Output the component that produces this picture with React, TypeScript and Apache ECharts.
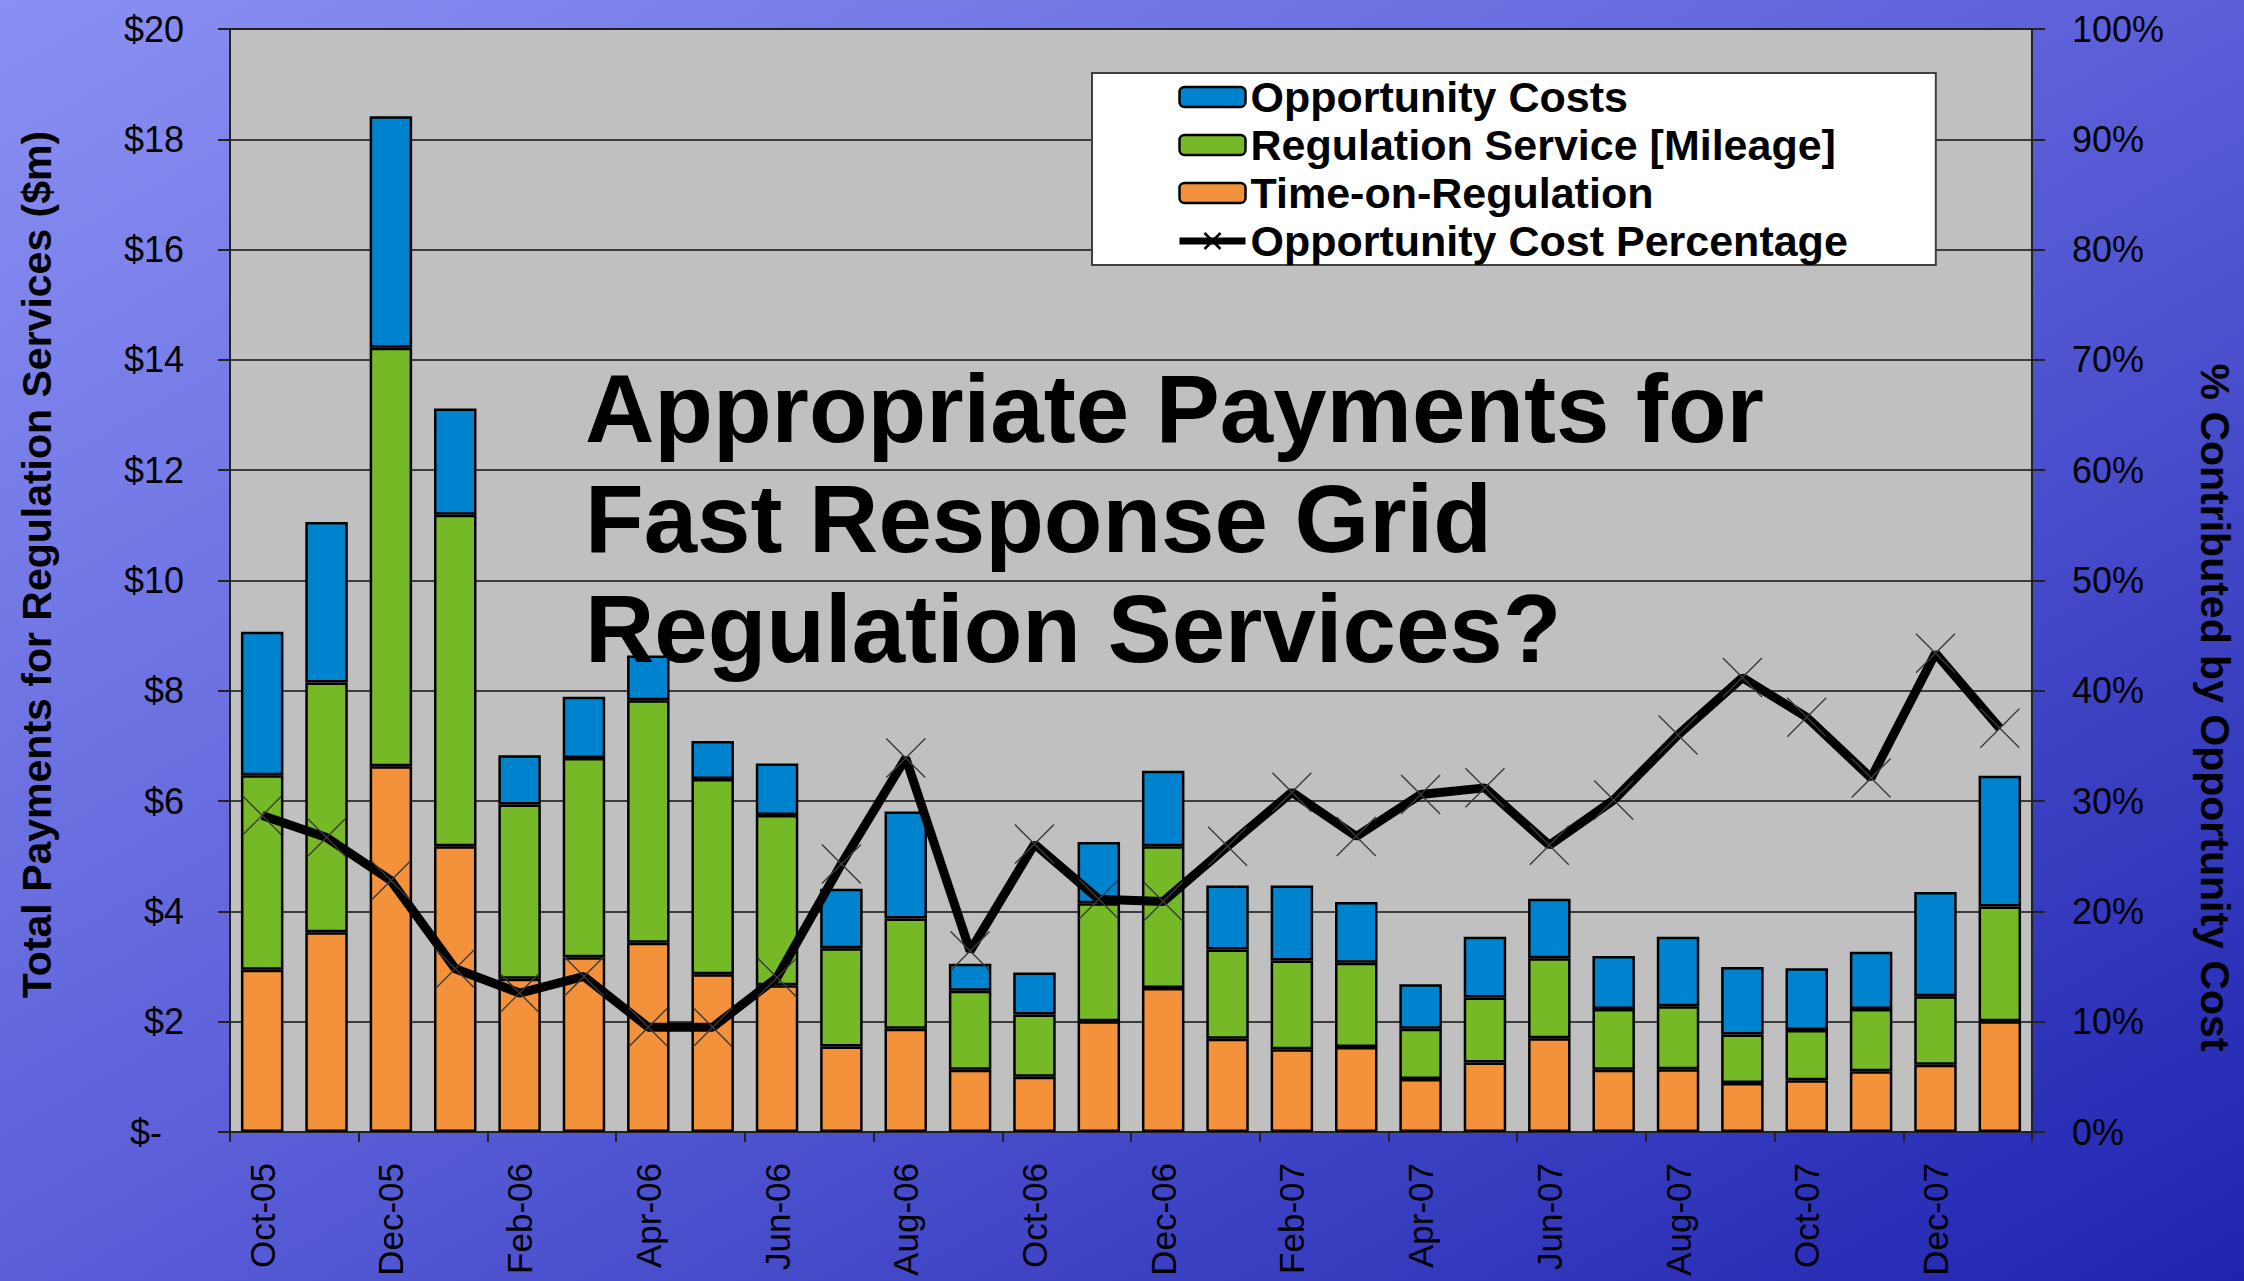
import React, { useEffect, useRef } from "react";
import * as echarts from "echarts";

const categories = [
  "Oct-05", "Nov-05", "Dec-05", "Jan-06", "Feb-06", "Mar-06", "Apr-06", "May-06",
  "Jun-06", "Jul-06", "Aug-06", "Sep-06", "Oct-06", "Nov-06", "Dec-06", "Jan-07",
  "Feb-07", "Mar-07", "Apr-07", "May-07", "Jun-07", "Jul-07", "Aug-07", "Sep-07",
  "Oct-07", "Nov-07", "Dec-07", "Jan-08",
];

// $ millions
const timeOnRegulation = [
  2.94, 3.62, 6.63, 5.18, 2.78, 3.17, 3.43, 2.86, 2.66, 1.55, 1.87, 1.13, 1.0, 2.01,
  2.61, 1.69, 1.5, 1.54, 0.96, 1.26, 1.7, 1.13, 1.14, 0.89, 0.94, 1.1, 1.22, 2.01,
];
const regulationService = [
  3.53, 4.53, 7.59, 6.01, 3.16, 3.61, 4.4, 3.54, 3.09, 1.78, 2.0, 1.43, 1.13, 2.14,
  2.57, 1.62, 1.61, 1.53, 0.91, 1.18, 1.45, 1.1, 1.14, 0.88, 0.91, 1.13, 1.24, 2.08,
];
const opportunityCosts = [
  2.6, 2.91, 4.2, 1.93, 0.89, 1.11, 0.81, 0.69, 0.93, 1.08, 1.94, 0.49, 0.76, 1.11,
  1.37, 1.16, 1.36, 1.1, 0.81, 1.1, 1.08, 0.96, 1.26, 1.22, 1.12, 1.04, 1.89, 2.37,
];
// percent
const opportunityCostPct = [
  28.7, 26.7, 22.8, 14.8, 12.6, 14.1, 9.5, 9.5, 14.0, 24.3, 33.9, 16.4, 26.1, 21.1,
  20.9, 25.9, 30.8, 26.8, 30.6, 31.2, 26.0, 30.1, 36.0, 41.2, 37.6, 32.1, 43.4, 36.6,
];

const seriesNames = [
  "Opportunity Costs",
  "Regulation Service [Mileage]",
  "Time-on-Regulation",
  "Opportunity Cost Percentage",
];

const titleLines = [
  "Appropriate Payments for",
  "Fast Response Grid",
  "Regulation Services?",
];

const leftAxisTitle = "Total Payments for Regulation Services ($m)";
const rightAxisTitle = "% Contributed by Opportunity Cost";

const FONT = "'Liberation Sans', Arial, sans-serif";

export default function App() {
  const ref = useRef<HTMLDivElement>(null);

  useEffect(() => {
    if (!ref.current) return;
    const chart = echarts.init(ref.current, undefined, { renderer: "svg" });
    const barBorder = { borderColor: "#000", borderWidth: 2.5 };
    const tickLabelStyle = {
      color: "#000",
      fontFamily: FONT,
      fontWeight: "normal" as const,
    };

    chart.setOption({
      animation: false,
      backgroundColor: new echarts.graphic.LinearGradient(0, 0, 1, 1, [
        { offset: 0, color: "#8A90F2" },
        { offset: 0.5, color: "#5A5FD8" },
        { offset: 1, color: "#1E24AE" },
      ]),
      title: {
        text: titleLines.join("\n"),
        left: 585,
        top: 353,
        padding: 0,
        textStyle: {
          color: "#000",
          fontFamily: FONT,
          fontWeight: "bold",
          fontSize: 96,
          lineHeight: 110,
        },
      },
      legend: {
        orient: "vertical",
        left: 1092,
        top: 73,
        data: seriesNames,
        backgroundColor: "#fff",
        borderColor: "#404040",
        borderWidth: 2,
        padding: [0, 88, 0, 84],
        itemWidth: 66,
        itemHeight: 20,
        itemGap: 0,
        itemStyle: { borderColor: "#000", borderWidth: 2.5 },
        lineStyle: { width: 7, color: "#000" },
        textStyle: {
          color: "#000",
          fontFamily: FONT,
          fontWeight: "bold",
          fontSize: 43,
          lineHeight: 48,
        },
      },
      grid: {
        left: 230,
        right: 2244 - 2032,
        top: 29,
        bottom: 1281 - 1132,
        show: true,
        backgroundColor: "#C0C0C0",
        borderColor: "#555",
        borderWidth: 2,
      },
      xAxis: {
        type: "category",
        data: categories,
        boundaryGap: true,
        axisLine: { show: true, lineStyle: { color: "#222", width: 2 } },
        axisTick: { show: true, interval: 1, length: 10, lineStyle: { color: "#222", width: 2 } },
        axisLabel: { ...tickLabelStyle, fontSize: 35, interval: 1, rotate: 90, margin: 31 },
      },
      yAxis: [
        {
          type: "value",
          min: 0,
          max: 20,
          interval: 2,
          position: "left",
          name: leftAxisTitle,
          nameLocation: "middle",
          nameRotate: 90,
          nameGap: 173,
          nameTextStyle: {
            color: "#000",
            fontFamily: FONT,
            fontWeight: "bold",
            fontSize: 41,
            padding: [0, 0, 0, 32],
          },
          axisLine: { show: true, lineStyle: { color: "#222", width: 2 } },
          axisTick: { show: true, length: 12, lineStyle: { color: "#222", width: 2 } },
          axisLabel: {
            ...tickLabelStyle,
            fontSize: 36,
            margin: 46,
            formatter: (v: number) => (v === 0 ? "{z|$-}" : "$" + v),
            rich: {
              z: {
                color: "#000",
                fontFamily: FONT,
                fontSize: 36,
                padding: [0, 22, 0, 0],
              },
            },
          },
          splitLine: { show: true, lineStyle: { color: "#111", width: 1.5 } },
        },
        {
          type: "value",
          min: 0,
          max: 100,
          interval: 10,
          position: "right",
          name: rightAxisTitle,
          nameLocation: "middle",
          nameRotate: -90,
          nameGap: 162,
          nameTextStyle: {
            color: "#000",
            fontFamily: FONT,
            fontWeight: "bold",
            fontSize: 41,
            padding: [0, 0, 0, 254],
          },
          axisLine: { show: true, lineStyle: { color: "#222", width: 2 } },
          axisTick: { show: true, length: 13, lineStyle: { color: "#222", width: 2 } },
          axisLabel: { ...tickLabelStyle, fontSize: 36, margin: 40, formatter: "{value}%" },
          splitLine: { show: false },
        },
      ],
      series: [
        {
          name: seriesNames[2],
          type: "bar",
          stack: "pay",
          barWidth: "66%",
          data: timeOnRegulation,
          itemStyle: { color: "#F3923A", ...barBorder },
        },
        {
          name: seriesNames[1],
          type: "bar",
          stack: "pay",
          barWidth: "66%",
          data: regulationService,
          itemStyle: { color: "#76B926", ...barBorder },
        },
        {
          name: seriesNames[0],
          type: "bar",
          stack: "pay",
          barWidth: "66%",
          data: opportunityCosts,
          itemStyle: { color: "#0083CF", ...barBorder },
        },
        {
          name: seriesNames[3],
          type: "line",
          yAxisIndex: 1,
          data: opportunityCostPct,
          symbol: "path://M0,0 L10,10 M10,0 L0,10",
          symbolSize: 39,
          showSymbol: true,
          lineStyle: { color: "#000", width: 9 },
          itemStyle: { color: "#000", borderColor: "#3a3a3a", borderWidth: 1.4 },
          z: 5,
        },
      ],
    });

    return () => chart.dispose();
  }, []);

  return (
    <div
      ref={ref}
      style={{ position: "fixed", left: 0, top: 0, width: 2244, height: 1281 }}
    />
  );
}
